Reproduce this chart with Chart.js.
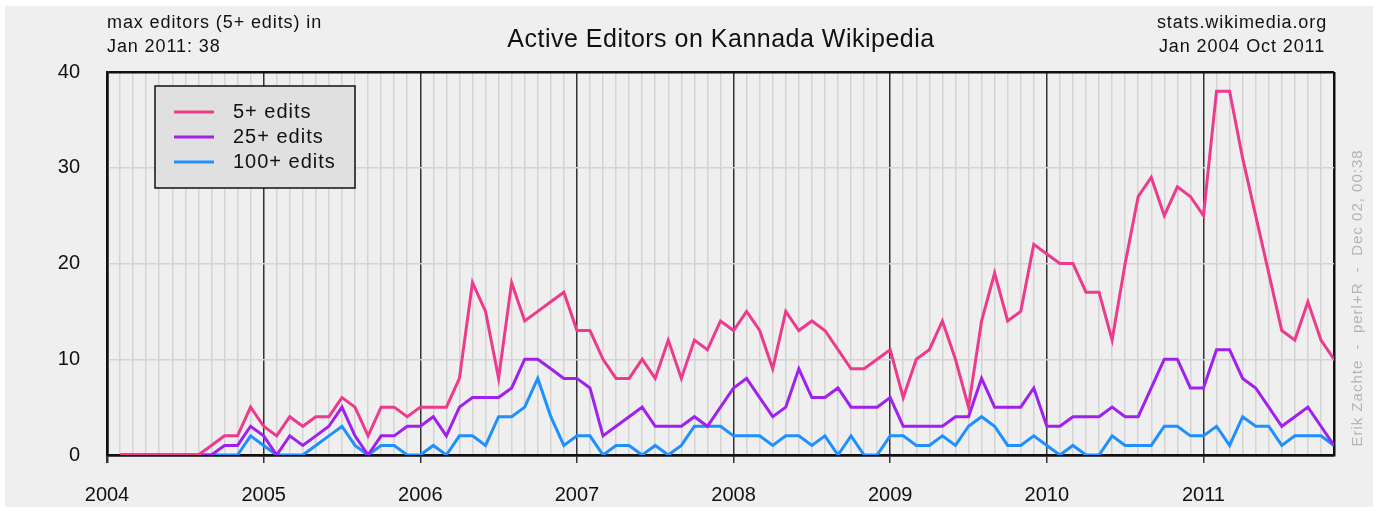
<!DOCTYPE html>
<html>
<head>
<meta charset="utf-8">
<script src="https://cdn.jsdelivr.net/npm/chart.js@4"></script>
<style>
html, body { margin: 0; padding: 0; background: #ffffff; }
</style>
</head>
<body>
<canvas id="editorsChart" width="1378" height="511"></canvas>
<script>
// Year labels along the x axis (one every 12 months, starting Jan 2004)
const yearLabels = ['2004', '2005', '2006', '2007', '2008', '2009', '2010', '2011'];

// Monthly active editors, Jan 2004 .. Oct 2011 (94 months)
const edits5 = [
    0, 0, 0, 0, 0, 0, 0, 1, 2, 2, 5, 3,
    2, 4, 3, 4, 4, 6, 5, 2, 5, 5, 4, 5,
    5, 5, 8, 18, 15, 8, 18, 14, 15, 16, 17, 13,
    13, 10, 8, 8, 10, 8, 12, 8, 12, 11, 14, 13,
    15, 13, 9, 15, 13, 14, 13, 11, 9, 9, 10, 11,
    6, 10, 11, 14, 10, 5, 14, 19, 14, 15, 22, 21,
    20, 20, 17, 17, 12, 20, 27, 29, 25, 28, 27, 25,
    38, 38, 31, 25, 19, 13, 12, 16, 12, 10
];
const edits25 = [
    0, 0, 0, 0, 0, 0, 0, 0, 1, 1, 3, 2,
    0, 2, 1, 2, 3, 5, 2, 0, 2, 2, 3, 3,
    4, 2, 5, 6, 6, 6, 7, 10, 10, 9, 8, 8,
    7, 2, 3, 4, 5, 3, 3, 3, 4, 3, 5, 7,
    8, 6, 4, 5, 9, 6, 6, 7, 5, 5, 5, 6,
    3, 3, 3, 3, 4, 4, 8, 5, 5, 5, 7, 3,
    3, 4, 4, 4, 5, 4, 4, 7, 10, 10, 7, 7,
    11, 11, 8, 7, 5, 3, 4, 5, 3, 1
];
const edits100 = [
    0, 0, 0, 0, 0, 0, 0, 0, 0, 0, 2, 1,
    0, 0, 0, 1, 2, 3, 1, 0, 1, 1, 0, 0,
    1, 0, 2, 2, 1, 4, 4, 5, 8, 4, 1, 2,
    2, 0, 1, 1, 0, 1, 0, 1, 3, 3, 3, 2,
    2, 2, 1, 2, 2, 1, 2, 0, 2, 0, 0, 2,
    2, 1, 1, 2, 1, 3, 4, 3, 1, 1, 2, 1,
    0, 1, 0, 0, 2, 1, 1, 1, 3, 3, 2, 2,
    3, 1, 4, 3, 3, 1, 2, 2, 2, 1
];

const seriesLabels = ['5+ edits', '25+ edits', '100+ edits'];
const seriesColors = ['#ee3a8c', '#a020f0', '#1e90ff'];

// Each monthly value is plotted at the end of its month
function toPoints(values) {
    return values.map((v, i) => ({ x: i + 1, y: v }));
}

const FONT = '"Liberation Sans", Arial, sans-serif';
const monthCount = edits5.length;

// Page background: light grey panel with a thin white frame
const backgroundPlugin = {
    id: 'panelBackground',
    beforeDraw(chart) {
        const ctx = chart.ctx;
        ctx.save();
        ctx.fillStyle = '#ffffff';
        ctx.fillRect(0, 0, chart.width, chart.height);
        ctx.fillStyle = '#efefef';
        ctx.fillRect(5, 6, chart.width - 10, chart.height - 10);
        ctx.restore();
    }
};

// Title, corner notes and the vertical credit line
const textPlugin = {
    id: 'headerTexts',
    afterDraw(chart) {
        const ctx = chart.ctx;
        ctx.save();
        ctx.fillStyle = '#111111';
        ctx.textBaseline = 'middle';

        ctx.font = '25px ' + FONT;
        ctx.letterSpacing = '0.5px';
        ctx.textAlign = 'center';
        ctx.fillText('Active Editors on Kannada Wikipedia', 721, 40);

        ctx.font = '18px ' + FONT;
        ctx.letterSpacing = '0.9px';
        ctx.textAlign = 'left';
        ctx.fillText('max editors (5+ edits) in', 107, 23);
        ctx.fillText('Jan 2011: 38', 107, 47);

        ctx.textAlign = 'center';
        ctx.fillText('stats.wikimedia.org', 1242, 23);
        ctx.fillText('Jan 2004 Oct 2011', 1242, 47);

        // credit, rotated
        ctx.translate(1358, 298);
        ctx.rotate(-Math.PI / 2);
        ctx.fillStyle = '#b4b4b4';
        ctx.font = '15px ' + FONT;
        ctx.letterSpacing = '1px';
        ctx.fillText('Erik Zachte  -  perl+R  -  Dec 02, 00:38', 0, 0);
        ctx.restore();
    }
};

// Boxed legend inside the plot area
const legendBoxPlugin = {
    id: 'legendBox',
    afterDatasetsDraw(chart) {
        const ctx = chart.ctx;
        ctx.save();
        ctx.fillStyle = '#e0e0e0';
        ctx.fillRect(155, 86, 200, 102);
        ctx.strokeStyle = '#111111';
        ctx.lineWidth = 1.5;
        ctx.strokeRect(155, 86, 200, 102);

        ctx.font = '20px ' + FONT;
        ctx.letterSpacing = '1px';
        ctx.textAlign = 'left';
        ctx.textBaseline = 'middle';
        chart.data.datasets.forEach((ds, i) => {
            const y = 112 + i * 25;
            ctx.strokeStyle = ds.borderColor;
            ctx.lineWidth = 3;
            ctx.beginPath();
            ctx.moveTo(174, y);
            ctx.lineTo(214, y);
            ctx.stroke();
            ctx.fillStyle = '#111111';
            ctx.fillText(ds.label, 233, y);
        });
        ctx.restore();
    }
};

const ctx = document.getElementById('editorsChart').getContext('2d');
const editorsChart = new Chart(ctx, {
    type: 'line',
    data: {
        datasets: [edits5, edits25, edits100].map((values, i) => ({
            label: seriesLabels[i],
            data: toPoints(values),
            borderColor: seriesColors[i],
            borderWidth: 3,
            pointRadius: 0,
            tension: 0,
            fill: false
        }))
    },
    options: {
        responsive: false,
        animation: false,
        layout: {
            padding: { top: 72, right: 44, left: 0, bottom: 0 }
        },
        scales: {
            x: {
                type: 'linear',
                min: 0,
                max: monthCount,
                afterFit: scale => { scale.height = 56; },
                ticks: {
                    stepSize: 1,
                    maxTicksLimit: 200,
                    autoSkip: false,
                    maxRotation: 0,
                    padding: 20,
                    color: '#111111',
                    font: { family: FONT, size: 20 },
                    callback: value => (value % 12 === 0 && yearLabels[value / 12]) ? yearLabels[value / 12] : ''
                },
                grid: {
                    drawTicks: true,
                    tickLength: 8,
                    tickColor: c => (c.tick && c.tick.value % 12 === 0) ? '#333333' : 'rgba(0,0,0,0)',
                    color: c => {
                        const v = c.tick ? c.tick.value : -1;
                        if (v === 0 || v === monthCount) return '#111111';
                        return v % 12 === 0 ? '#333333' : '#d4d4d4';
                    },
                    lineWidth: c => {
                        const v = c.tick ? c.tick.value : -1;
                        if (v === 0 || v === monthCount) return 2.5;
                        return 1.5;
                    }
                },
                border: { display: true, color: '#111111', width: 2.5 }
            },
            y: {
                min: 0,
                max: 40,
                afterFit: scale => { scale.width = 107; },
                ticks: {
                    stepSize: 10,
                    padding: 27,
                    color: '#111111',
                    font: { family: FONT, size: 20 }
                },
                grid: {
                    drawTicks: false,
                    color: c => (c.tick && (c.tick.value === 40 || c.tick.value === 0)) ? '#111111' : '#d4d4d4',
                    lineWidth: c => (c.tick && (c.tick.value === 40 || c.tick.value === 0)) ? 2.5 : 1.5
                },
                border: { display: true, color: '#111111', width: 2.5 }
            }
        },
        plugins: {
            legend: { display: false },
            tooltip: { enabled: false }
        }
    },
    plugins: [backgroundPlugin, legendBoxPlugin, textPlugin]
});
</script>
</body>
</html>
